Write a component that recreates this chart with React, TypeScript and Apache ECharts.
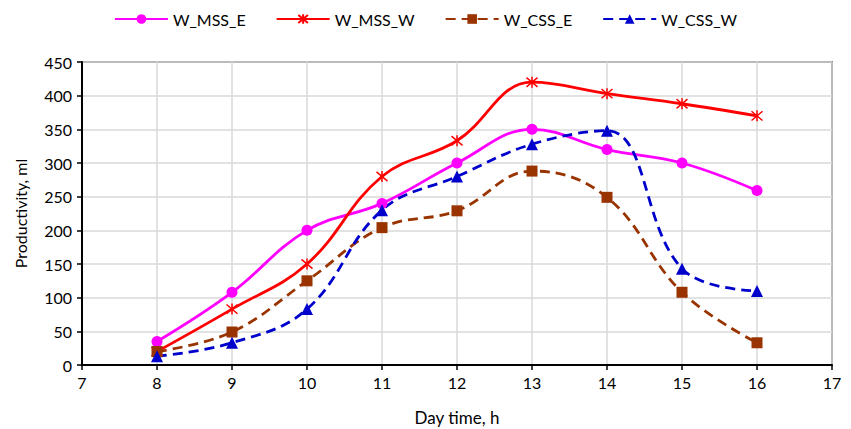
import React, { useEffect, useRef } from "react";
import * as echarts from "echarts";

const hours = [8, 9, 10, 11, 12, 13, 14, 15, 16];
const wMssE = [35, 108, 200, 240, 300, 350, 320, 300, 259];
const wMssW = [20, 83, 150, 280, 333, 420, 403, 388, 370];
const wCssE = [20, 49, 125, 204, 229, 288, 249, 108, 33];
const wCssW = [13, 33, 83, 230, 280, 328, 348, 143, 110];
const seriesNames = ["W_MSS_E", "W_MSS_W", "W_CSS_E", "W_CSS_W"];

const FONT = "Lato, 'Open Sans', sans-serif";
const asterisk = "path://M5 0 L5 10 M0.8 0.8 L9.2 9.2 M0.8 9.2 L9.2 0.8";

const pairs = (ys: number[]) => hours.map((h, i) => [h, ys[i]]);

export default function App() {
  const ref = useRef<HTMLDivElement>(null);
  useEffect(() => {
    if (!ref.current) return;
    const chart = echarts.init(ref.current, undefined, { renderer: "svg" });
    const mk = (name: string, ys: number[], color: string, dashed: boolean, symbol: string, size: number, extra: any = {}) => ({
      name,
      type: "line",
      data: pairs(ys),
      smooth: 0.4,
      symbol,
      symbolSize: size,
      lineStyle: { color, width: 2.8, type: dashed ? [10, 6] : "solid" },
      itemStyle: { color, ...extra },
      z: 3,
    });
    chart.setOption({
      animation: false,
      textStyle: { fontFamily: FONT },
      legend: {
        top: 6,
        left: "center",
        itemWidth: 53,
        itemHeight: 12,
        itemGap: 30,
        textStyle: { fontSize: 16, color: "#000", fontFamily: FONT },
        data: seriesNames,
      },
      grid: {
        left: 82,
        right: 19,
        top: 62,
        bottom: 64,
        outerBoundsMode: "none",
        containLabel: false,
        show: true,
        borderColor: "#333",
        borderWidth: 1.5,
      },
      xAxis: {
        type: "value",
        min: 7,
        max: 17,
        interval: 1,
        name: "Day time, h",
        nameLocation: "middle",
        nameGap: 44,
        nameTextStyle: { fontSize: 17, color: "#000", fontFamily: FONT },
        axisLine: { show: true, lineStyle: { color: "#000", width: 2 } },
        axisTick: { show: true, length: 5, lineStyle: { color: "#000", width: 1.5 } },
        axisLabel: { fontSize: 16, color: "#000", margin: 9, fontFamily: FONT },
        splitLine: { show: true, lineStyle: { color: "#d9d9d9", width: 1.5 } },
      },
      yAxis: {
        type: "value",
        min: 0,
        max: 450,
        interval: 50,
        name: "Productivity, ml",
        nameLocation: "middle",
        nameGap: 54,
        nameTextStyle: { fontSize: 16, color: "#000", fontFamily: FONT },
        axisLine: { show: true, lineStyle: { color: "#000", width: 2 } },
        axisTick: { show: true, length: 5, lineStyle: { color: "#000", width: 1.5 } },
        axisLabel: { fontSize: 16, color: "#000", margin: 10, fontFamily: FONT },
        splitLine: { show: true, lineStyle: { color: "#d9d9d9", width: 1.5 } },
      },
      series: [
        mk("W_MSS_E", wMssE, "#FF00FF", false, "circle", 11),
        mk("W_MSS_W", wMssW, "#FF0000", false, asterisk, 11, { borderColor: "#FF0000", borderWidth: 1.5 }),
        mk("W_CSS_E", wCssE, "#993300", true, "rect", 11),
        mk("W_CSS_W", wCssW, "#0000CC", true, "triangle", 12),
      ],
    });
    return () => chart.dispose();
  }, []);
  return (
    <div
      ref={ref}
      style={{ position: "absolute", left: 0, top: 0, width: 851, height: 429 }}
    />
  );
}
